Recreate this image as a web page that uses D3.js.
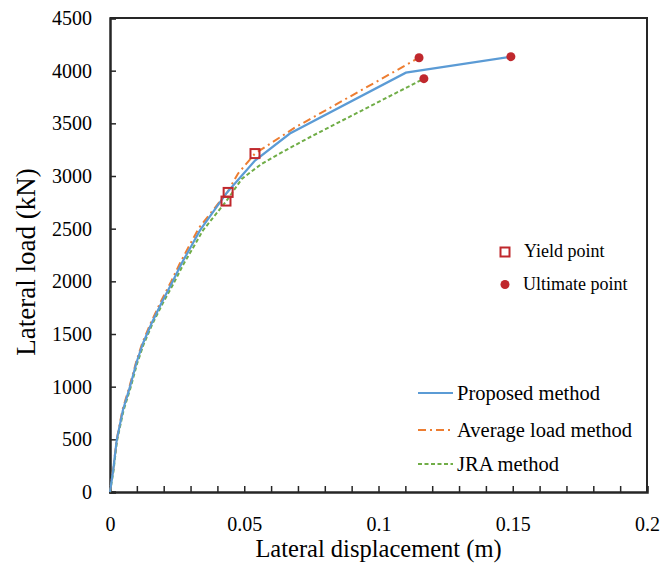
<!DOCTYPE html>
<html>
<head>
<meta charset="utf-8">
<script src="https://cdn.jsdelivr.net/npm/d3@7"></script>
<style>
  html, body { margin: 0; padding: 0; background: #fff; }
  svg { display: block; font-family: "Liberation Serif", "Times New Roman", serif; }
</style>
</head>
<body>
<svg id="chart" width="661" height="565"></svg>
<script>
// Pushover curves: lateral displacement (m) vs lateral load (kN)
const proposedDisp = [0, 0.0012, 0.0025, 0.0048, 0.0074, 0.0099, 0.0123, 0.0155, 0.0193, 0.0230, 0.0267, 0.0304, 0.0335, 0.0436, 0.0540, 0.0670, 0.1102, 0.1493];
const proposedLoad = [0, 209, 493, 777, 995, 1232, 1412, 1602, 1801, 1981, 2171, 2341, 2483, 2844, 3147, 3403, 3981, 4133];

const averageDisp = [0, 0.0012, 0.0025, 0.0047, 0.0073, 0.0098, 0.0121, 0.0153, 0.0190, 0.0227, 0.0263, 0.0300, 0.0332, 0.0438, 0.0477, 0.0540, 0.0689, 0.1151];
const averageLoad = [0, 215, 500, 785, 1005, 1240, 1420, 1612, 1812, 1995, 2185, 2360, 2510, 2850, 3024, 3213, 3460, 4123];

const jraDisp = [0, 0.0013, 0.0026, 0.0050, 0.0076, 0.0101, 0.0125, 0.0157, 0.0196, 0.0235, 0.0273, 0.0312, 0.0346, 0.0435, 0.0491, 0.0565, 0.0652, 0.0756, 0.1169];
const jraLoad = [0, 200, 485, 770, 985, 1220, 1400, 1590, 1790, 1970, 2160, 2330, 2483, 2768, 2973, 3116, 3242, 3384, 3924];

// Yield and ultimate points
const yieldDisp = [0.0432, 0.0440, 0.0540];
const yieldLoad = [2762, 2844, 3213];
const ultimateDisp = [0.1151, 0.1169, 0.1493];
const ultimateLoad = [4123, 3924, 4133];

// Axis ticks
const xTicks = [0, 0.05, 0.1, 0.15, 0.2];
const xMinorTicks = d3.range(0, 21).map(i => i / 100);
const yTicks = [0, 500, 1000, 1500, 2000, 2500, 3000, 3500, 4000, 4500];

const seriesNames = ["Proposed method", "Average load method", "JRA method"];
const seriesColors = ["#5b9bd5", "#ed7d31", "#70ad47"];
const seriesDash = [null, "8,4,2,4", "4,2.5"];
const markerColor = "#c0282d";

const svg = d3.select("#chart");
const plotLeft = 110, plotRight = 647, plotTop = 18, plotBottom = 492;

const x = d3.scaleLinear().domain([0, 0.2]).range([plotLeft, plotRight]);
const y = d3.scaleLinear().domain([0, 4500]).range([plotBottom, plotTop]);

const axisColor = "#262626";

// plot frame (top and right)
svg.append("path")
  .attr("d", `M${plotLeft},${plotTop}H${plotRight}V${plotBottom}`)
  .attr("fill", "none").attr("stroke", axisColor).attr("stroke-width", 2);

// x axis: ticks every 0.01, labels every 0.05, ticks pointing inward
const xAxis = d3.axisBottom(x).tickValues(xMinorTicks).tickSize(-6)
  .tickFormat(d => xTicks.some(t => Math.abs(t - d) < 1e-9) ? String(+d.toFixed(2)) : "")
  .tickPadding(25);
const gx = svg.append("g").attr("transform", `translate(0,${plotBottom})`).call(xAxis);
gx.select(".domain").attr("stroke", axisColor).attr("stroke-width", 2.5);
gx.selectAll(".tick line").attr("stroke", axisColor).attr("stroke-width", 1.5);
gx.selectAll(".tick text").attr("font-size", 20).attr("fill", "#000")
  .attr("font-family", "Liberation Serif, Times New Roman, serif");

const yAxis = d3.axisLeft(y).tickValues(yTicks).tickSize(-6).tickPadding(18).tickFormat(d3.format("d"));
const gy = svg.append("g").attr("transform", `translate(${plotLeft},0)`).call(yAxis);
gy.select(".domain").attr("stroke", axisColor).attr("stroke-width", 2.5);
gy.selectAll(".tick line").attr("stroke", axisColor).attr("stroke-width", 1.5);
gy.selectAll(".tick text").attr("font-size", 20).attr("fill", "#000")
  .attr("font-family", "Liberation Serif, Times New Roman, serif");

// axis titles
svg.append("text").attr("x", (plotLeft + plotRight) / 2).attr("y", 557)
  .attr("text-anchor", "middle").attr("font-size", 24.5).attr("fill", "#000")
  .text("Lateral displacement (m)");
svg.append("text").attr("transform", `translate(35,262) rotate(-90)`)
  .attr("text-anchor", "middle").attr("font-size", 27).attr("fill", "#000")
  .text("Lateral load (kN)");

// curves
const line = d3.line().x(d => x(d[0])).y(d => y(d[1]));
const curves = [
  d3.zip(proposedDisp, proposedLoad),
  d3.zip(averageDisp, averageLoad),
  d3.zip(jraDisp, jraLoad)
];
const drawOrder = [2, 1, 0];
drawOrder.forEach(i => {
  svg.append("path").datum(curves[i])
    .attr("d", line)
    .attr("fill", "none")
    .attr("stroke", seriesColors[i])
    .attr("stroke-width", i === 0 ? 2.2 : 2)
    .attr("stroke-dasharray", seriesDash[i]);
});

// yield points
svg.selectAll("rect.yield").data(d3.zip(yieldDisp, yieldLoad)).enter()
  .append("rect").attr("class", "yield")
  .attr("x", d => x(d[0]) - 4.5).attr("y", d => y(d[1]) - 4.5)
  .attr("width", 9).attr("height", 9)
  .attr("fill", "none").attr("stroke", markerColor).attr("stroke-width", 2);

// ultimate points
svg.selectAll("circle.ult").data(d3.zip(ultimateDisp, ultimateLoad)).enter()
  .append("circle").attr("class", "ult")
  .attr("cx", d => x(d[0])).attr("cy", d => y(d[1])).attr("r", 4.5)
  .attr("fill", markerColor);

// marker legend
const lg1 = svg.append("g");
lg1.append("rect").attr("x", 500.5).attr("y", 247.5).attr("width", 9).attr("height", 9)
  .attr("fill", "none").attr("stroke", markerColor).attr("stroke-width", 2);
lg1.append("text").attr("x", 524).attr("y", 257).attr("font-size", 18).text("Yield point");
lg1.append("circle").attr("cx", 505).attr("cy", 284.5).attr("r", 4.5).attr("fill", markerColor);
lg1.append("text").attr("x", 523).attr("y", 290).attr("font-size", 18).text("Ultimate point");

// line legend
const legendY = [393, 430, 464];
seriesNames.forEach((name, i) => {
  svg.append("line").attr("x1", 418).attr("x2", 453)
    .attr("y1", legendY[i]).attr("y2", legendY[i])
    .attr("stroke", seriesColors[i]).attr("stroke-width", 2)
    .attr("stroke-dasharray", seriesDash[i]);
  svg.append("text").attr("x", 457).attr("y", legendY[i] + 6.5)
    .attr("font-size", 20.5).text(name);
});
</script>
</body>
</html>
